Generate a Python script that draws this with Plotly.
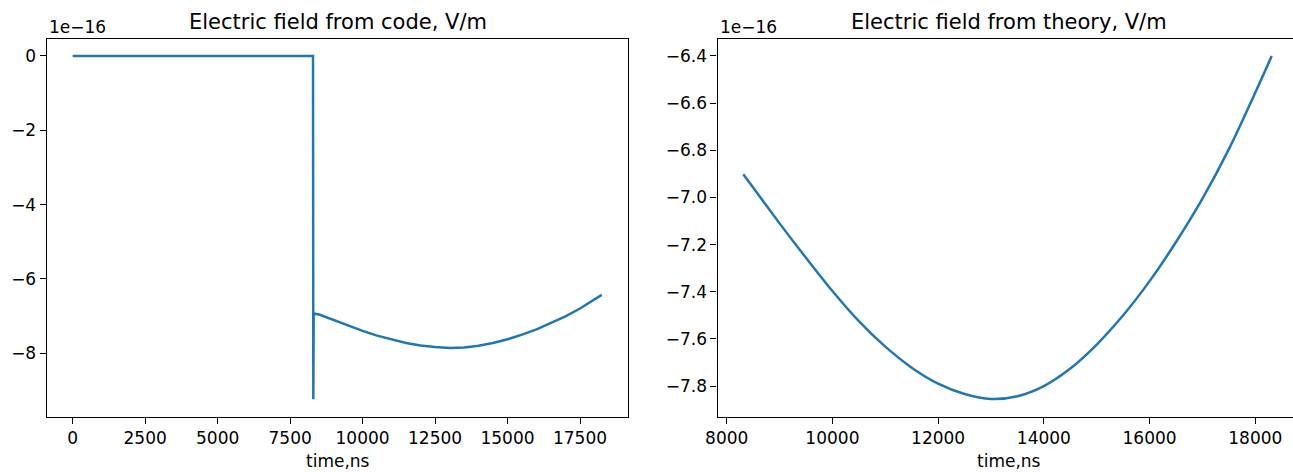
import plotly.graph_objects as go

# ---- data (field values in units of 1e-16 V/m) ----
code_time = [0, 2000, 4000, 6000, 8290, 8300, 8314, 8500, 9000, 9500, 10000, 10500, 11000,
             11500, 12000, 12500, 13000, 13500, 14000, 14500, 15000, 15500, 16000,
             16500, 17000, 17500, 18000, 18250]
code_field = [0, 0, 0, 0, 0, -9.24, -6.93, -6.958, -7.110, -7.256, -7.397, -7.525, -7.633,
              -7.722, -7.790, -7.834, -7.855, -7.843, -7.800, -7.726, -7.624, -7.500, -7.355,
              -7.189, -7.005, -6.795, -6.555, -6.43]

theory_time = [8314, 8500, 9000, 9500, 10000, 10500, 11000, 11500, 12000, 12500, 13000,
               13500, 14000, 14500, 15000, 15500, 16000, 16500, 17000, 17500, 18000, 18310]
theory_field = [-6.902, -6.958, -7.110, -7.256, -7.397, -7.525, -7.633, -7.722, -7.790,
                -7.834, -7.855, -7.843, -7.800, -7.726, -7.624, -7.500, -7.355, -7.189,
                -7.005, -6.795, -6.555, -6.400]

left_xticks = [0, 2500, 5000, 7500, 10000, 12500, 15000, 17500]
left_yticks = [0, -2, -4, -6, -8]
right_xticks = [8000, 10000, 12000, 14000, 16000, 18000]
right_yticks = [-6.4, -6.6, -6.8, -7.0, -7.2, -7.4, -7.6, -7.8]

titles = ["Electric field from code, V/m", "Electric field from theory, V/m"]
xlabel = "time,ns"
offset_text = "1e\u221216"

W, H = 1293, 472
FONT = "DejaVu Sans"
BLUE = "#1f77b4"
TICK_SIZE = 17
TITLE_SIZE = 21


def mlabel(v, fmt):
    return fmt.format(v).replace("-", "\u2212")


fig = go.Figure()
fig.add_trace(go.Scatter(x=code_time, y=code_field, mode="lines",
                         line=dict(color=BLUE, width=2.5), xaxis="x", yaxis="y",
                         showlegend=False, hoverinfo="skip"))
fig.add_trace(go.Scatter(x=theory_time, y=theory_field, mode="lines",
                         line=dict(color=BLUE, width=2.5, shape="spline", smoothing=0.8),
                         xaxis="x2", yaxis="y2", showlegend=False, hoverinfo="skip"))

# axes geometry (pixels)
L1, R1 = 46.7, 628.3
L2, R2 = 717.5, 1299.5
TOP, BOT = 39.0, 416.7
ydom = [1 - BOT / H, 1 - TOP / H]

axis_common = dict(showgrid=False, zeroline=False, showline=True, linecolor="black",
                   linewidth=1.2, ticks="outside", ticklen=6, tickwidth=1.2, tickcolor="black",
                   automargin=False,
                   tickfont=dict(family=FONT, size=TICK_SIZE, color="black"))

fig.update_layout(
    width=W, height=H,
    margin=dict(l=0, r=0, t=0, b=0, autoexpand=False),
    paper_bgcolor="white", plot_bgcolor="white",
    xaxis=dict(domain=[L1 / W, R1 / W], range=[-897, 19166], anchor="y", mirror=True,
               tickvals=left_xticks, ticktext=[mlabel(v, "{:d}") for v in left_xticks],
               **axis_common),
    yaxis=dict(domain=ydom, range=[-9.707, 0.457], anchor="x", mirror=True,
               tickvals=left_yticks, ticktext=[mlabel(v, "{:d}") for v in left_yticks],
               **axis_common),
    xaxis2=dict(domain=[L2 / W, 1.0], range=[7826, 18713], anchor="y2", mirror=True,
                tickvals=right_xticks, ticktext=[mlabel(v, "{:d}") for v in right_xticks],
                **axis_common),
    yaxis2=dict(domain=ydom, range=[-7.930, -6.328], anchor="x2", mirror=False,
                tickvals=right_yticks, ticktext=[mlabel(v, "{:.1f}") for v in right_yticks],
                **axis_common),
)

annos = []
for (l, r), t in zip([(L1, R1), (L2, R2)], titles):
    cx = (l + r) / 2 / W
    annos.append(dict(text=t, x=cx, y=1 - 22 / H, xref="paper", yref="paper",
                      xanchor="center", yanchor="middle", showarrow=False,
                      font=dict(family=FONT, size=TITLE_SIZE, color="black")))
    annos.append(dict(text=xlabel, x=cx, y=1 - 461 / H, xref="paper", yref="paper",
                      xanchor="center", yanchor="middle", showarrow=False,
                      font=dict(family=FONT, size=TICK_SIZE, color="black")))
    annos.append(dict(text=offset_text, x=l / W, y=1 - 27 / H, xref="paper", yref="paper",
                      xanchor="left", yanchor="middle", showarrow=False,
                      font=dict(family=FONT, size=TICK_SIZE, color="black")))
fig.update_layout(annotations=annos)

fig.write_html("out.html", config={"displayModeBar": False},
               post_script="document.body.style.margin='0';document.body.style.overflow='hidden';")
